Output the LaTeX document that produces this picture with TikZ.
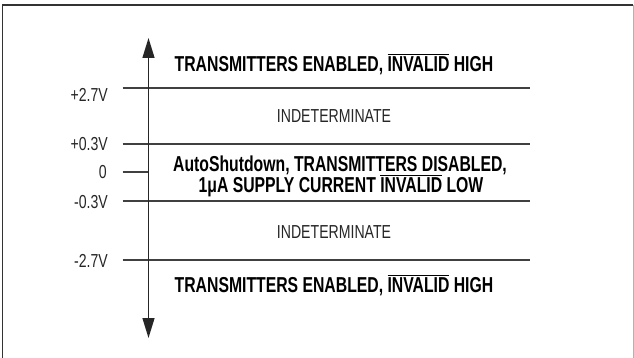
\documentclass[tikz,border=0pt]{standalone}
\usepackage{fontspec}
\setmainfont{Liberation Sans}
\newfontfamily\condfont{Liberation Sans}[FakeStretch=0.73]
\newfontfamily\lcondfont{Liberation Sans}[FakeStretch=0.75]
\usetikzlibrary{arrows.meta}
\newcommand\invl[1]{\vbox{\hrule height 0.9pt\kern 2.2pt\hbox{#1}}}
\tikzset{
  level/.style={line width=1.4pt, draw=black!75},
  boldtxt/.style={font=\condfont\bfseries\fontsize{21.6}{23}\selectfont, anchor=base, inner sep=0pt, align=center},
  lighttxt/.style={font=\lcondfont\fontsize{18.8}{21}\selectfont, anchor=base, inner sep=0pt, text=black!85},
  vlabel/.style={font=\lcondfont\fontsize{18.8}{21}\selectfont, anchor=base east, inner sep=0pt, text=black!85},
}
\begin{document}
\begin{tikzpicture}[x=1pt,y=-1pt]
\useasboundingbox (0,0) rectangle (634,358);
% frame
\draw[line width=1.6pt, draw=black!80] (633.4,5) -- (2.6,5) -- (2.6,362);
\draw[line width=1pt, draw=black!30] (633.4,5) -- (633.4,362);
% axis endpoints and level lines
\coordinate (top) at (148.5,38);
\coordinate (bot) at (148.5,338);
\coordinate (l1a) at (122.5,88);  \coordinate (l1b) at (530,88);
\coordinate (l2a) at (122.5,144); \coordinate (l2b) at (530,144);
\coordinate (l3a) at (122.5,201); \coordinate (l3b) at (530,201);
\coordinate (l4a) at (122.5,260); \coordinate (l4b) at (530,260);
\coordinate (t0a) at (122.5,172); \coordinate (t0b) at (148.5,172);
\draw[level] (l1a) -- (l1b);
\draw[level] (l2a) -- (l2b);
\draw[level] (l3a) -- (l3b);
\draw[level] (l4a) -- (l4b);
\draw[level] (t0a) -- (t0b);
\draw[line width=1.3pt, draw=black!85, {Triangle[width=12pt,length=20pt]}-{Triangle[width=12pt,length=20pt]}] (top) -- (bot);
% voltage labels
\node[vlabel] (v1) at (108,102) {+2.7V};
\node[vlabel] (v2) at (108,151) {+0.3V};
\node[vlabel] (v3) at (107,178.5) {0};
\node[vlabel] (v4) at (108,208.5) {-0.3V};
\node[vlabel] (v5) at (108,267.5) {-2.7V};
% region texts
\node[boldtxt] (r1) at (334,71.5) {TRANSMITTERS ENABLED, \invl{INVALID} HIGH};
\node[lighttxt] (r2) at (334,122.5) {INDETERMINATE};
\node[boldtxt] (r3a) at (340,171.7) {AutoShutdown, TRANSMITTERS DISABLED,};
\node[boldtxt] (r3b) at (341,193) {1μA SUPPLY CURRENT \invl{INVALID} LOW};
\node[lighttxt] (r4) at (334,238) {INDETERMINATE};
\node[boldtxt] (r5) at (334,292.5) {TRANSMITTERS ENABLED, \invl{INVALID} HIGH};
\end{tikzpicture}
\end{document}
